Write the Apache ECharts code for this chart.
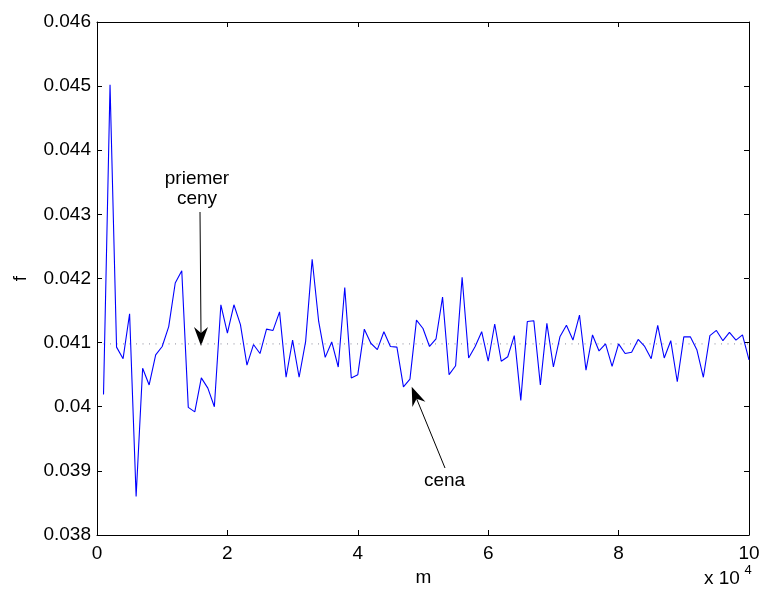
<!DOCTYPE html>
<html>
<head>
<meta charset="utf-8">
<script src="https://cdn.jsdelivr.net/npm/echarts@6/dist/echarts.min.js"></script>
<style>
	html, body { margin: 0; padding: 0; background: #fff; }
	#main { width: 763px; height: 597px; }
</style>
</head>
<body>
<div id="main"></div>
<script>
	// m (in thousands)
	var mThousands = [1, 2, 3, 4, 5, 6, 7, 8, 9, 10, 11, 12, 13, 14, 15, 16, 17, 18, 19, 20,
		21, 22, 23, 24, 25, 26, 27, 28, 29, 30, 31, 32, 33, 34, 35, 36, 37, 38, 39, 40,
		41, 42, 43, 44, 45, 46, 47, 48, 49, 50, 51, 52, 53, 54, 55, 56, 57, 58, 59, 60,
		61, 62, 63, 64, 65, 66, 67, 68, 69, 70, 71, 72, 73, 74, 75, 76, 77, 78, 79, 80,
		81, 82, 83, 84, 85, 86, 87, 88, 89, 90, 91, 92, 93, 94, 95, 96, 97, 98, 99, 100];

	// cena (f)
	var cena = [0.04019, 0.04502, 0.04093, 0.04075, 0.04145, 0.03860, 0.04060, 0.04034, 0.04081, 0.04094,
		0.04125, 0.04193, 0.04212, 0.03999, 0.03992, 0.04045, 0.04029, 0.04000, 0.04159, 0.04115,
		0.04159, 0.04128, 0.04065, 0.04097, 0.04083, 0.04121, 0.04119, 0.04148, 0.04046, 0.04104,
		0.04046, 0.04102, 0.04230, 0.04133, 0.04077, 0.04101, 0.04062, 0.04186, 0.04045, 0.04050,
		0.04121, 0.04099, 0.04089, 0.04117, 0.04094, 0.04093, 0.04031, 0.04043, 0.04135, 0.04122,
		0.04094, 0.04106, 0.04171, 0.04050, 0.04064, 0.04202, 0.04076, 0.04094, 0.04117, 0.04071,
		0.04129, 0.04071, 0.04078, 0.04111, 0.04010, 0.04133, 0.04134, 0.04034, 0.04130, 0.04062,
		0.04109, 0.04127, 0.04104, 0.04143, 0.04057, 0.04112, 0.04087, 0.04098, 0.04063, 0.04098,
		0.04083, 0.04085, 0.04105, 0.04094, 0.04075, 0.04127, 0.04076, 0.04103, 0.04039, 0.04109,
		0.04109, 0.04089, 0.04046, 0.04111, 0.04119, 0.04103, 0.04116, 0.04104, 0.04112, 0.04073];

	// priemer ceny (dotted line)
	var priemerM = [1000, 100000];
	var priemer = [0.04098, 0.04098];

	var xTicks = [0, 2, 4, 6, 8, 10];
	var yTicks = ['0.038', '0.039', '0.04', '0.041', '0.042', '0.043', '0.044', '0.045', '0.046'];

	var FONT = '"Liberation Sans", Arial, sans-serif';

	var cenaData = [];
	for (var i = 0; i < cena.length; i++) {
		cenaData.push([mThousands[i] * 1000, cena[i]]);
	}
	var priemerData = [];
	for (var j = 0; j < priemer.length; j++) {
		priemerData.push([priemerM[j], priemer[j]]);
	}

	var xStep = (xTicks[1] - xTicks[0]) * 10000;

	function xAxisDef(pos, labels) {
		return {
			type : 'value',
			position : pos,
			min : xTicks[0] * 10000,
			max : xTicks[xTicks.length - 1] * 10000,
			interval : xStep,
			axisLine : { show : true, onZero : false, lineStyle : { color : '#000', width : 1 } },
			axisTick : { show : true, inside : true, length : 5, lineStyle : { color : '#000' } },
			splitLine : { show : false },
			axisLabel : {
				show : labels,
				margin : 9,
				color : '#000',
				fontSize : 19,
				fontFamily : FONT,
				formatter : function(v) { return String(v / 10000); }
			}
		};
	}

	function yAxisDef(pos, labels) {
		return {
			type : 'value',
			position : pos,
			min : 0.038,
			max : 0.046,
			interval : 0.001,
			axisLine : { show : true, onZero : false, lineStyle : { color : '#000', width : 1 } },
			axisTick : { show : true, inside : true, length : 5, lineStyle : { color : '#000' } },
			splitLine : { show : false },
			axisLabel : {
				show : labels,
				margin : 6,
				color : '#000',
				fontSize : 19,
				fontFamily : FONT,
				formatter : function(v) {
					var idx = Math.round((v - 0.038) / 0.001);
					return yTicks[idx];
				}
			}
		};
	}

	function txt(x, y, s, size, rot) {
		return {
			type : 'text',
			x : x,
			y : y,
			rotation : rot || 0,
			style : {
				x : 0,
				y : 0,
				text : s,
				fill : '#000',
				font : size + 'px ' + FONT,
				textAlign : 'center',
				textVerticalAlign : 'middle',
				align : 'center',
				verticalAlign : 'middle'
			}
		};
	}

	var chart = echarts.init(document.getElementById('main'));
	chart.setOption({
		backgroundColor : '#fff',
		animation : false,
		grid : { left : 97, right : 14, top : 22, bottom : 62 },
		xAxis : [ xAxisDef('bottom', true), xAxisDef('top', false) ],
		yAxis : [ yAxisDef('left', true), yAxisDef('right', false) ],
		series : [ {
			name : 'priemer ceny',
			type : 'line',
			data : priemerData,
			showSymbol : false,
			silent : true,
			lineStyle : { color : '#889', width : 1, type : [1, 5.5] }
		}, {
			name : 'cena',
			type : 'line',
			data : cenaData,
			showSymbol : false,
			silent : true,
			lineStyle : { color : '#0000ff', width : 1.1 }
		} ],
		graphic : [
			txt(21, 278.5, 'f', 19, Math.PI / 2),
			txt(423.5, 578, 'm', 19),
			{
				type : 'text', x : 704, y : 579,
				style : { x : 0, y : 0, text : 'x 10', fill : '#000', font : '19px ' + FONT,
					textAlign : 'left', textVerticalAlign : 'middle', align : 'left', verticalAlign : 'middle' }
			},
			txt(748, 570, '4', 13),
			txt(197, 179, 'priemer', 19),
			txt(197, 198.5, 'ceny', 19),
			txt(444.5, 480.3, 'cena', 19),
			// sipka k priemeru
			{ type : 'line', shape : { x1 : 200, y1 : 212, x2 : 201, y2 : 334 }, style : { stroke : '#000', lineWidth : 1 } },
			{ type : 'polygon', shape : { points : [ [201, 346], [194, 327], [201, 333], [208, 327] ] }, style : { fill : '#000' } },
			// sipka k cene
			{ type : 'line', shape : { x1 : 445, y1 : 468, x2 : 416.6, y2 : 398.7 }, style : { stroke : '#000', lineWidth : 1 } },
			{ type : 'polygon', shape : { points : [ [411.7, 386.7], [412.4, 406.9], [416.6, 398.7], [425.4, 401.7] ] }, style : { fill : '#000' } }
		]
	});
</script>
</body>
</html>
